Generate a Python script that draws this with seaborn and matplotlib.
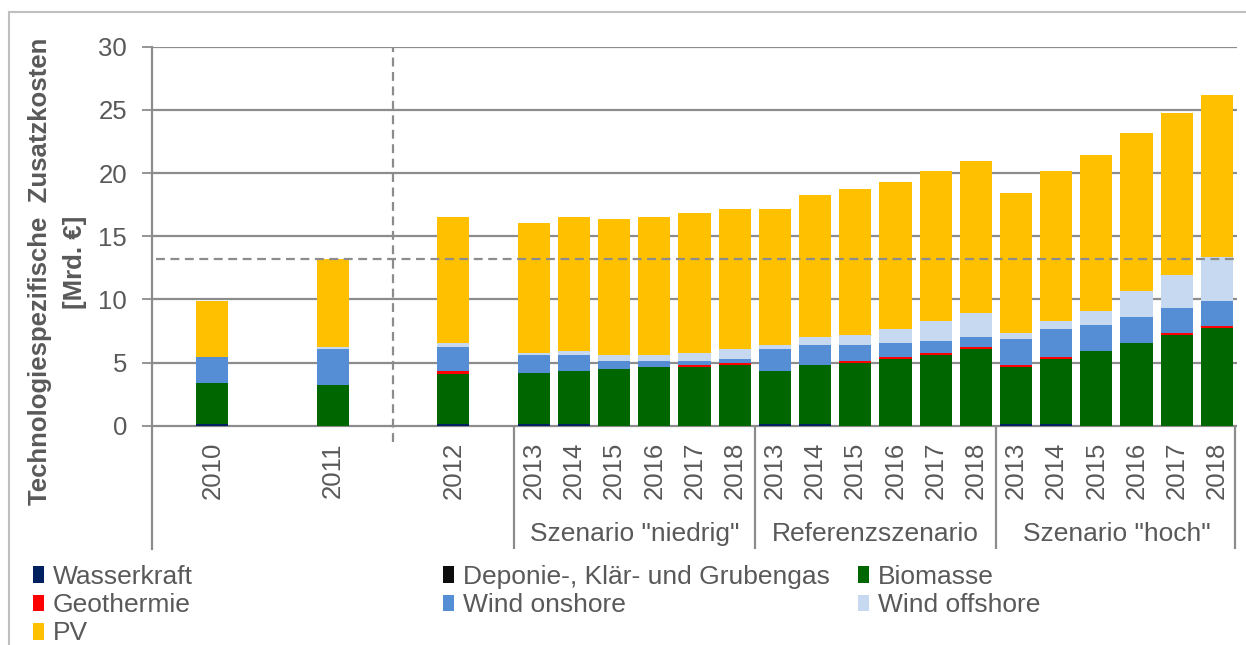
import numpy as np
import pandas as pd
import matplotlib.pyplot as plt
import seaborn as sns
from matplotlib.patches import Patch, Rectangle

# Values in Mrd. EUR: 2010, 2011, 2012, then 2013-2018 for each scenario
years = ['2010', '2011', '2012'] + ['2013', '2014', '2015', '2016', '2017', '2018'] * 3
groups = ['Szenario "niedrig"', 'Referenzszenario', 'Szenario "hoch"']

wasserkraft = [0.10, 0.00, 0.10,
               0.10, 0.10, 0.00, 0.00, 0.00, 0.00,
               0.10, 0.10, 0.00, 0.00, 0.00, 0.00,
               0.10, 0.10, 0.00, 0.00, 0.00, 0.00]
deponie = [0.00] * 21
biomasse = [3.28, 3.25, 4.02,
            4.05, 4.23, 4.46, 4.62, 4.62, 4.78,
            4.26, 4.68, 4.96, 5.31, 5.60, 6.05,
            4.52, 5.16, 5.91, 6.52, 7.16, 7.76]
geothermie = [0.00, 0.00, 0.21,
              0.00, 0.00, 0.00, 0.00, 0.18, 0.21,
              0.00, 0.00, 0.19, 0.10, 0.18, 0.18,
              0.16, 0.15, 0.00, 0.00, 0.16, 0.16]
wind_onshore = [2.03, 2.80, 1.93,
                1.45, 1.27, 0.66, 0.50, 0.32, 0.29,
                1.69, 1.61, 1.24, 1.14, 0.90, 0.79,
                2.08, 2.25, 2.04, 2.06, 2.02, 1.95]
wind_offshore = [0.00, 0.20, 0.26,
                 0.13, 0.31, 0.48, 0.48, 0.64, 0.77,
                 0.34, 0.63, 0.79, 1.11, 1.61, 1.90,
                 0.46, 0.66, 1.13, 2.11, 2.59, 3.46]
pv = [4.46, 6.92, 9.98,
      10.29, 10.59, 10.74, 10.90, 11.06, 11.08,
      10.74, 11.25, 11.54, 11.66, 11.85, 12.01,
      11.08, 11.85, 12.33, 12.46, 12.80, 12.83]

series = [
    ('Wasserkraft', wasserkraft, '#002060'),
    ('Deponie-, Klär- und Grubengas', deponie, '#0d0d0d'),
    ('Biomasse', biomasse, '#006600'),
    ('Geothermie', geothermie, '#ff0000'),
    ('Wind onshore', wind_onshore, '#558ed5'),
    ('Wind offshore', wind_offshore, '#c6d9f1'),
    ('PV', pv, '#ffc000'),
]

GREY = '#8c8c8c'
TXT = '#595959'
FS = 18.5

sns.set_theme(style='white')
plt.rcParams['font.family'] = ['Liberation Sans', 'DejaVu Sans']

# x layout: single years spaced by 3, scenario bars side by side
pos = [0, 3, 6] + list(range(8, 26))

fig = plt.figure(figsize=(12.46, 6.45), dpi=100)
ax = fig.add_axes([152 / 1246, 1 - 549 / 645, (1237 - 152) / 1246, (549 - 46.7) / 645])

# stacked bars: draw cumulative totals from the top layer down
df = pd.DataFrame({name: vals for name, vals, _ in series})
cum = df.cumsum(axis=1)
for name, _, color in reversed(series):
    sns.barplot(x=pos, y=cum[name].values, native_scale=True, width=0.8,
                color=color, saturation=1, errorbar=None, linewidth=0, ax=ax)

ymin = -9.76
ax.set_xlim(-1.5, 25.5)
ax.set_ylim(ymin, 30)
ax.set_yticks(range(0, 31, 5))
ax.set_xticks([])
ax.yaxis.grid(True, color=GREY, lw=1.6)
ax.set_axisbelow(True)
ax.tick_params(axis='y', left=True, length=7, width=1.3, color=GREY,
               pad=11, labelsize=FS, labelcolor=TXT)
for s in ['top', 'right', 'bottom']:
    ax.spines[s].set_visible(False)
ax.spines['left'].set_color(GREY)
ax.spines['left'].set_linewidth(1.6)

# reference level (2011 total) and separators
ref = cum.iloc[1, -1]
ax.hlines(ref, -1.4, 25.45, colors=GREY, linestyles=(0, (4, 2.5)), lw=1.6, zorder=5)
ax.vlines(4.5, -1.3, 30, colors=GREY, linestyles=(0, (4, 2.5)), lw=1.6, zorder=5)
ax.vlines([7.5, 13.5, 19.5, 25.45], ymin, 0, colors=GREY, lw=1.6, clip_on=False)

for p, y in zip(pos, years):
    ax.text(p, -1.3, y, rotation=90, ha='center', va='top', fontsize=FS, color=TXT)
for i, g in enumerate(groups):
    ax.text(10.5 + 6 * i, -8.6, g, ha='center', va='center', fontsize=FS + 0.5, color=TXT)

fig.text(40 / 1246, 1 - 271 / 645, 'Technologiespezifische  Zusatzkosten', rotation=90,
         ha='center', va='center', fontsize=FS, fontweight='bold', color=TXT)
fig.text(75 / 1246, 1 - 262 / 645, '[Mrd. €]', rotation=90,
         ha='center', va='center', fontsize=FS, fontweight='bold', color=TXT)

# legend laid out in three columns
cols = [[0, 3, 6], [1, 4], [2, 5]]
xs = [33, 443, 858]
for idx, x in zip(cols, xs):
    handles = [Patch(facecolor=series[i][2], edgecolor='none', label=series[i][0]) for i in idx]
    fig.legend(handles=handles, loc='upper left', bbox_to_anchor=(x / 1246, 1 - 565 / 645),
               frameon=False, fontsize=19, labelcolor=TXT, handlelength=0.42,
               handleheight=0.6, handletextpad=0.34, labelspacing=0.16,
               borderpad=0, borderaxespad=0)

fig.add_artist(Rectangle((9 / 1246, -0.1), 1.5, (645 - 12) / 645 + 0.1,
                         transform=fig.transFigure, fill=False, ec='#bfbfbf', lw=1.5))

fig.savefig('out.png', dpi=100)
